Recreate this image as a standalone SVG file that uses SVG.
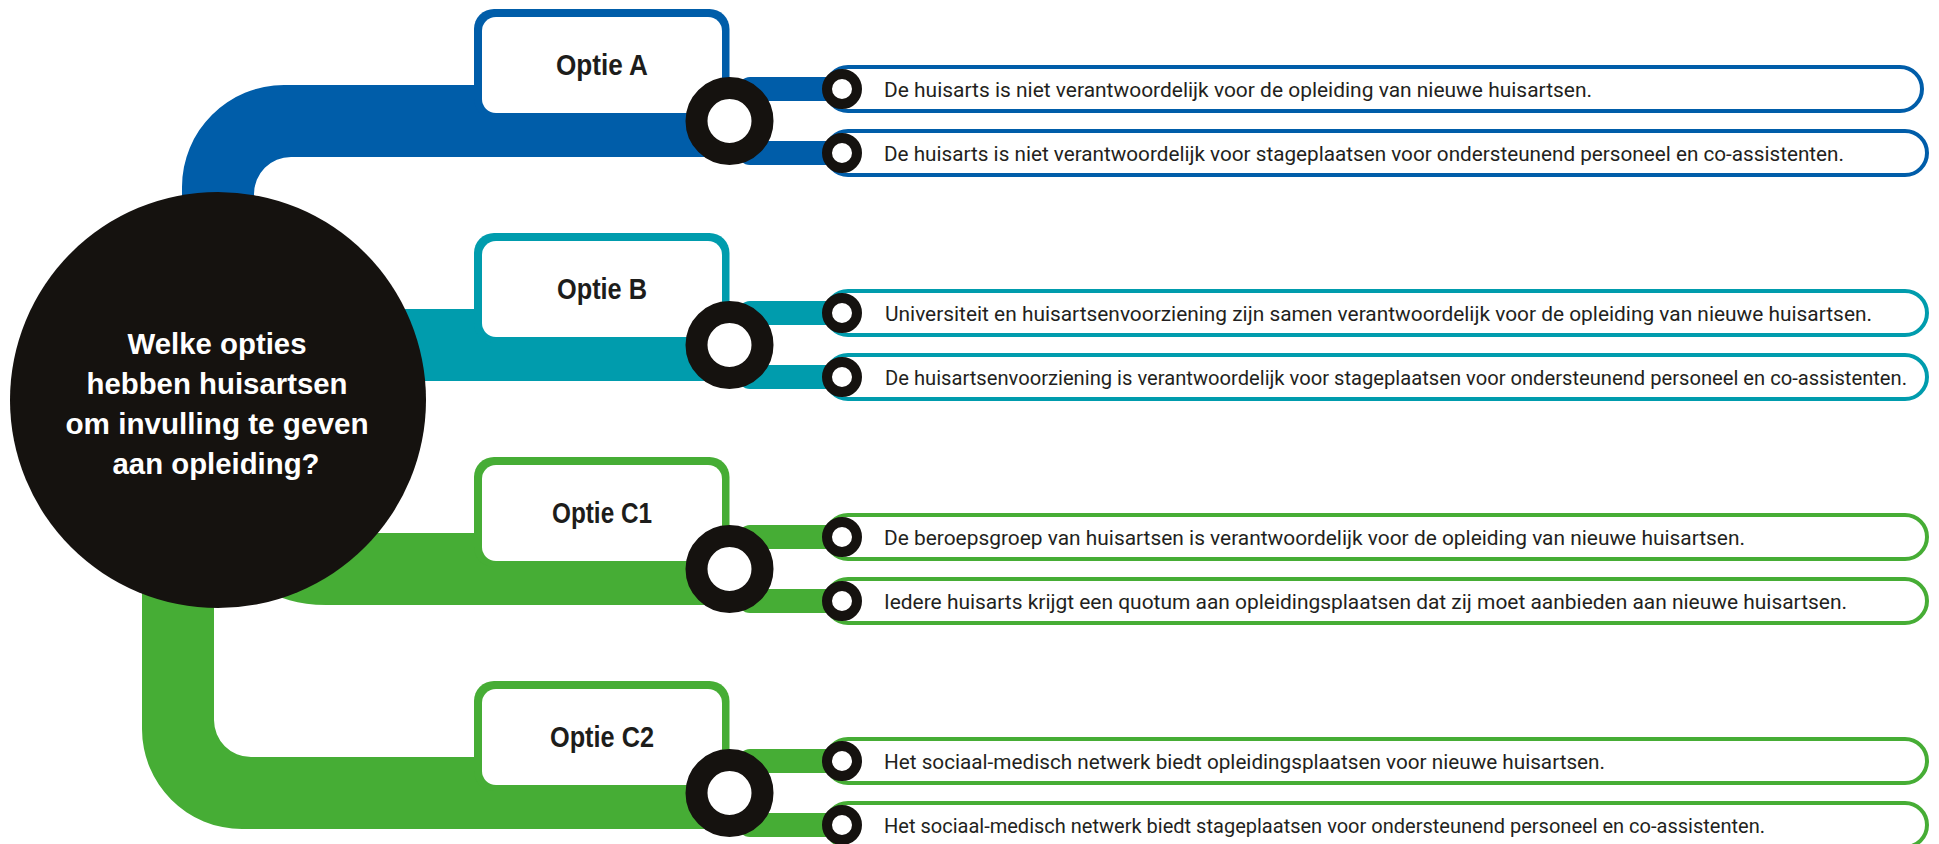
<svg xmlns="http://www.w3.org/2000/svg" width="1939" height="844" viewBox="0 0 1939 844">
  <style>
    .blue{fill:#005DA9}
    .teal{fill:#009CAD}
    .green{fill:#46AD35}
    .sb{stroke:#005DA9}
    .st{stroke:#009CAD}
    .sg{stroke:#46AD35}
    .hub{fill:#15120F}
    .q{font-family:"Liberation Sans",Arial,sans-serif;font-weight:bold;font-size:30px;fill:#FFFFFF;text-anchor:middle}
    .opt{font-family:"Liberation Sans",Arial,sans-serif;font-weight:bold;font-size:29px;fill:#1D1D1B;text-anchor:middle}
    .inner{fill:#FFFFFF}
    .ring{fill:#FFFFFF;stroke:#15120F;stroke-width:22}
    .dot{fill:#FFFFFF;stroke:#15120F;stroke-width:10}
    .pill{fill:#FFFFFF;stroke-width:4}
    .txt{font-family:Roboto,"Liberation Sans",Arial,sans-serif;font-size:20.5px;fill:#231F20}
  </style>

  <!-- trunks and branches -->
  <g id="connectors">
    <path class="blue" d="M182,300 V187 A102,102 0 0 1 284,85 H730 V157 H291 A37,37 0 0 0 254,194 V300 Z"/>
    <rect class="teal" x="300" y="309" width="430" height="72"/>
    <path class="green" d="M262,533 H730 V605 H326 C298,605 278,598 262,588 Z"/>
    <path class="green" d="M142,560 V729 A100,100 0 0 0 242,829 H730 V757 H251 A37,37 0 0 1 214,720 V560 Z"/>

    <rect class="blue" x="738" y="77" width="104" height="24" rx="12"/>
    <rect class="blue" x="738" y="141" width="104" height="24" rx="12"/>
    <rect class="teal" x="738" y="301" width="104" height="24" rx="12"/>
    <rect class="teal" x="738" y="365" width="104" height="24" rx="12"/>
    <rect class="green" x="738" y="525" width="104" height="24" rx="12"/>
    <rect class="green" x="738" y="589" width="104" height="24" rx="12"/>
    <rect class="green" x="738" y="749" width="104" height="24" rx="12"/>
    <rect class="green" x="738" y="813" width="104" height="24" rx="12"/>
  </g>

  <!-- central question -->
  <g id="question">
    <circle class="hub" cx="218" cy="400" r="208"/>
    <text class="q" x="217" y="354" textLength="179" lengthAdjust="spacingAndGlyphs">Welke opties</text>
    <text class="q" x="217" y="394" textLength="261" lengthAdjust="spacingAndGlyphs">hebben huisartsen</text>
    <text class="q" x="217" y="434" textLength="303" lengthAdjust="spacingAndGlyphs">om invulling te geven</text>
    <text class="q" x="216" y="474" textLength="207" lengthAdjust="spacingAndGlyphs">aan opleiding?</text>
  </g>

  <!-- option labels -->
  <g id="optie-a">
    <rect class="blue" x="474" y="9" width="255.5" height="110" rx="20"/>
    <rect class="inner" x="482" y="17" width="240" height="96" rx="14"/>
    <text class="opt" x="602" y="75" textLength="92" lengthAdjust="spacingAndGlyphs">Optie A</text>
    <circle class="ring" cx="729.5" cy="121" r="33"/>
  </g>
  <g id="optie-b">
    <rect class="teal" x="474" y="233" width="255.5" height="110" rx="20"/>
    <rect class="inner" x="482" y="241" width="240" height="96" rx="14"/>
    <text class="opt" x="602" y="299" textLength="90" lengthAdjust="spacingAndGlyphs">Optie B</text>
    <circle class="ring" cx="729.5" cy="345" r="33"/>
  </g>
  <g id="optie-c1">
    <rect class="green" x="474" y="457" width="255.5" height="110" rx="20"/>
    <rect class="inner" x="482" y="465" width="240" height="96" rx="14"/>
    <text class="opt" x="602" y="523" textLength="100" lengthAdjust="spacingAndGlyphs">Optie C1</text>
    <circle class="ring" cx="729.5" cy="569" r="33"/>
  </g>
  <g id="optie-c2">
    <rect class="green" x="474" y="681" width="255.5" height="110" rx="20"/>
    <rect class="inner" x="482" y="689" width="240" height="96" rx="14"/>
    <text class="opt" x="602" y="747" textLength="104" lengthAdjust="spacingAndGlyphs">Optie C2</text>
    <circle class="ring" cx="729.5" cy="793" r="33"/>
  </g>

  <!-- statements -->
  <g id="a1">
    <rect class="pill sb" x="826" y="67" width="1096" height="44" rx="22"/>
    <circle class="dot" cx="842" cy="89" r="15"/>
    <text class="txt" x="884" y="97" textLength="708" lengthAdjust="spacingAndGlyphs">De huisarts is niet verantwoordelijk voor de opleiding van nieuwe huisartsen.</text>
  </g>
  <g id="a2">
    <rect class="pill sb" x="826" y="131" width="1101" height="44" rx="22"/>
    <circle class="dot" cx="842" cy="153" r="15"/>
    <text class="txt" x="884" y="161" textLength="960" lengthAdjust="spacingAndGlyphs">De huisarts is niet verantwoordelijk voor stageplaatsen voor ondersteunend personeel en co-assistenten.</text>
  </g>
  <g id="b1">
    <rect class="pill st" x="826" y="291" width="1101" height="44" rx="22"/>
    <circle class="dot" cx="842" cy="313" r="15"/>
    <text class="txt" x="885" y="321" textLength="987" lengthAdjust="spacingAndGlyphs">Universiteit en huisartsenvoorziening zijn samen verantwoordelijk voor de opleiding van nieuwe huisartsen.</text>
  </g>
  <g id="b2">
    <rect class="pill st" x="826" y="355" width="1101" height="44" rx="22"/>
    <circle class="dot" cx="842" cy="377" r="15"/>
    <text class="txt" x="885" y="385" textLength="1022" lengthAdjust="spacingAndGlyphs">De huisartsenvoorziening is verantwoordelijk voor stageplaatsen voor ondersteunend personeel en co-assistenten.</text>
  </g>
  <g id="c1a">
    <rect class="pill sg" x="826" y="515" width="1101" height="44" rx="22"/>
    <circle class="dot" cx="842" cy="537" r="15"/>
    <text class="txt" x="884" y="545" textLength="861" lengthAdjust="spacingAndGlyphs">De beroepsgroep van huisartsen is verantwoordelijk voor de opleiding van nieuwe huisartsen.</text>
  </g>
  <g id="c1b">
    <rect class="pill sg" x="826" y="579" width="1101" height="44" rx="22"/>
    <circle class="dot" cx="842" cy="601" r="15"/>
    <text class="txt" x="884" y="609" textLength="963" lengthAdjust="spacingAndGlyphs">Iedere huisarts krijgt een quotum aan opleidingsplaatsen dat zij moet aanbieden aan nieuwe huisartsen.</text>
  </g>
  <g id="c2a">
    <rect class="pill sg" x="826" y="739" width="1101" height="44" rx="22"/>
    <circle class="dot" cx="842" cy="761" r="15"/>
    <text class="txt" x="884" y="769" textLength="721" lengthAdjust="spacingAndGlyphs">Het sociaal-medisch netwerk biedt opleidingsplaatsen voor nieuwe huisartsen.</text>
  </g>
  <g id="c2b">
    <rect class="pill sg" x="826" y="803" width="1101" height="44" rx="22"/>
    <circle class="dot" cx="842" cy="825" r="15"/>
    <text class="txt" x="884" y="833" textLength="881" lengthAdjust="spacingAndGlyphs">Het sociaal-medisch netwerk biedt stageplaatsen voor ondersteunend personeel en co-assistenten.</text>
  </g>
</svg>
